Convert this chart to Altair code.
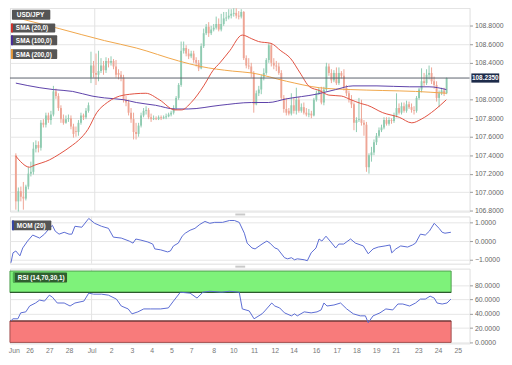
import altair as alt
import pandas as pd

# ---------------- data ----------------
opens = [107.40,106.90,107.01,106.95,106.93,107.06,107.20,107.22,107.47,107.51,
         107.48,107.75,107.73,107.83,107.78,107.84,108.09,108.04,107.91,107.79,
         107.75,107.79,107.80,107.71,107.66,107.65,107.75,107.83,107.81,107.88,
         108.24,108.37,108.29,108.27,108.31,108.37,108.32,108.42,108.40,108.42,
         108.36,108.29,108.27,108.24,108.00,107.97,107.86,107.79,107.65,107.63,
         107.72,107.83,107.88,107.89,107.81,107.79,107.80,107.79,107.81,107.80,
         107.81,107.82,107.84,107.86,107.91,108.02,108.16,108.53,108.56,108.50,
         108.47,108.50,108.43,108.40,108.34,108.58,108.72,108.79,108.72,108.76,
         108.78,108.82,108.76,108.82,108.88,108.89,108.91,108.93,108.94,108.91,
         108.90,108.95,108.45,108.37,108.36,108.29,107.95,108.07,108.11,108.24,
         108.29,108.43,108.59,108.40,108.37,108.36,108.29,108.02,107.90,107.88,
         107.85,107.94,107.88,108.00,107.88,107.92,107.86,107.84,107.85,107.83,
         108.00,108.07,108.11,107.97,108.11,108.36,108.29,108.21,108.29,108.18,
         108.29,108.26,108.13,108.07,108.00,107.95,107.75,107.78,107.79,107.75,
         107.73,107.27,107.40,107.43,107.54,107.61,107.67,107.70,107.78,107.74,
         107.78,107.77,107.83,107.91,107.86,107.93,107.88,107.95,107.92,107.89,
         107.88,108.02,108.11,108.20,108.18,108.27,108.29,108.20,108.16,108.02,
         108.07,108.10,108.07]
closes = [106.90,107.01,106.95,106.93,107.06,107.20,107.22,107.47,107.51,107.48,
          107.75,107.73,107.83,107.78,107.84,108.09,108.04,107.91,107.79,107.75,
          107.79,107.80,107.71,107.63,107.65,107.75,107.83,107.81,107.88,107.94,
          108.37,108.29,108.27,108.31,108.37,108.32,108.42,108.40,108.42,108.36,
          108.27,108.27,108.24,108.00,107.97,107.86,107.79,107.65,107.63,107.72,
          107.83,107.88,107.89,107.81,107.79,107.80,107.79,107.81,107.80,107.81,
          107.82,107.84,107.86,107.91,108.02,108.16,108.53,108.56,108.50,108.47,
          108.50,108.43,108.40,108.34,108.58,108.72,108.79,108.72,108.76,108.78,
          108.82,108.76,108.82,108.88,108.89,108.91,108.93,108.94,108.91,108.90,
          108.95,108.45,108.37,108.36,108.29,107.95,108.07,108.11,108.24,108.29,
          108.43,108.59,108.40,108.37,108.36,108.29,108.02,107.90,107.86,107.85,
          107.94,107.88,108.00,107.88,107.92,107.86,107.84,107.85,107.83,108.00,
          108.07,108.11,107.97,108.11,108.36,108.29,108.21,108.29,108.18,108.29,
          108.26,108.13,108.07,108.00,107.95,107.75,107.78,107.79,107.75,107.73,
          107.27,107.40,107.43,107.54,107.61,107.67,107.70,107.78,107.74,107.78,
          107.77,107.83,107.91,107.86,107.93,107.88,107.95,107.92,107.89,107.88,
          108.02,108.11,108.20,108.18,108.27,108.29,108.20,108.16,108.02,108.07,
          108.10,108.07,108.235]
highs = [107.42,107.05,107.06,107.11,107.08,107.27,107.33,107.54,107.56,107.55,
         107.78,107.79,107.86,107.86,107.88,108.15,108.12,108.07,107.94,107.84,
         107.83,107.84,107.83,107.74,107.71,107.78,107.86,107.85,107.91,107.97,
         108.52,108.42,108.50,108.53,108.45,108.42,108.46,108.45,108.47,108.44,
         108.43,108.33,108.31,108.27,108.04,108.00,107.91,107.86,107.75,107.75,
         107.86,107.91,107.93,107.91,107.85,107.83,107.82,107.83,107.83,107.83,
         107.85,107.86,107.88,107.94,108.04,108.18,108.63,108.63,108.59,108.55,
         108.53,108.53,108.46,108.43,108.61,108.77,108.82,108.84,108.80,108.82,
         108.90,108.88,108.93,108.95,108.95,108.98,108.98,108.99,108.99,108.96,
         108.98,108.96,108.48,108.45,108.40,108.31,108.10,108.15,108.27,108.34,
         108.45,108.61,108.61,108.45,108.42,108.40,108.32,108.05,108.02,107.91,
         108.07,108.02,108.13,108.03,107.96,107.97,107.91,107.90,107.88,108.02,
         108.10,108.13,108.14,108.14,108.40,108.39,108.33,108.32,108.35,108.35,
         108.31,108.33,108.16,108.10,108.05,107.97,107.81,108.02,108.00,107.78,
         107.76,107.42,107.49,107.57,107.64,107.70,107.73,107.81,107.81,107.81,
         107.80,107.86,108.07,107.96,107.97,107.97,107.99,107.98,107.96,107.93,
         108.04,108.13,108.34,108.29,108.33,108.37,108.35,108.25,108.20,108.10,
         108.13,108.13,108.24]
lows = [106.81,106.79,106.90,106.81,106.91,107.03,107.17,107.19,107.43,107.43,
        107.45,107.70,107.70,107.75,107.73,107.82,108.01,107.88,107.75,107.73,
        107.74,107.76,107.68,107.59,107.60,107.61,107.73,107.78,107.79,107.86,
        108.18,108.24,108.16,108.20,108.29,108.27,108.29,108.35,108.37,108.33,
        108.24,108.22,108.20,107.97,107.93,107.83,107.75,107.57,107.57,107.60,
        107.70,107.81,107.84,107.79,107.76,107.78,107.78,107.78,107.78,107.79,
        107.79,107.81,107.82,107.84,107.89,108.00,108.14,108.50,108.47,108.44,
        108.45,108.40,108.36,108.31,108.33,108.56,108.70,108.68,108.70,108.74,
        108.76,108.74,108.74,108.80,108.85,108.87,108.88,108.90,108.88,108.87,
        108.88,108.43,108.34,108.33,108.24,107.86,107.94,108.04,108.06,108.21,
        108.27,108.40,108.36,108.33,108.31,108.27,108.00,107.86,107.83,107.83,
        107.83,107.85,107.84,107.86,107.86,107.84,107.82,107.81,107.80,107.82,
        107.98,108.05,107.95,107.94,108.09,108.26,108.18,108.19,108.16,108.16,
        108.23,108.10,108.04,107.97,107.91,107.67,107.65,107.76,107.72,107.61,
        107.22,107.20,107.33,107.40,107.51,107.59,107.65,107.68,107.72,107.72,
        107.74,107.75,107.81,107.84,107.84,107.86,107.86,107.90,107.86,107.84,
        107.86,108.00,108.08,108.15,108.16,108.22,108.17,108.12,107.98,107.92,
        108.05,108.04,108.06]

sma20_t = [0,1.9,5.4,7.3,13.5,17.3,22.7,25,28.8,32.3,36.5,43.1,51.9,57.3,63.5,66.2,70,75,78.8,
           81.5,85.4,90.4,94.2,96.9,101.9,105.8,109.6,113.5,117.3,121.2,125,130,133.8,137.7,
           140.4,146.5,153.1,158.1,161.9,167.3,171.9]
sma20_v = [107.39,107.33,107.27,107.29,107.35,107.41,107.51,107.56,107.68,107.86,107.97,108.05,
           108.07,108.00,107.89,107.89,107.97,108.15,108.32,108.40,108.53,108.70,108.66,108.63,
           108.61,108.53,108.45,108.29,108.14,108.10,108.05,108.04,108.00,107.96,107.94,107.86,
           107.81,107.75,107.79,107.89,108.00]
sma100_t = [0,9.6,15,22.7,30.4,35.4,43.1,48.1,55.8,63.5,68.8,81.5,94.2,100.8,108.1,120,127.7,
            134.6,144.2,157.3,165,171.9]
sma100_v = [108.18,108.13,108.11,108.09,108.04,108.02,108.00,107.97,107.94,107.90,107.90,107.94,
            107.97,107.97,108.01,108.06,108.11,108.15,108.15,108.14,108.14,108.11]
sma200_t = [0,17.3,35.4,48.1,65,73.8,86.5,94.2,108.1,121.2,133.8,146.5,159.6,171.9]
sma200_v = [108.89,108.77,108.64,108.56,108.42,108.36,108.31,108.29,108.20,108.13,108.11,108.10,
            108.09,108.07]

mom_t = [0,0.8,1.9,3.5,4.6,6.5,8.5,11.2,13.1,15,16.2,17.3,18.8,20.8,22.7,23.8,25,27.7,30.4,
         32.7,35.4,38.1,40,43.1,46.2,47.7,48.8,50.8,53.5,55.4,56.2,58.5,61.2,62.3,63.5,65.4,
         66.9,68.1,70,71.9,73.8,75.8,77.7,79.6,82.7,85.4,87.3,89.2,91.2,92.3,94.2,95.4,98.1,
         100,101.2,103.1,104.2,106.9,108.1,109.6,110.8,111.9,114.6,115.8,117.3,119.2,120.4,
         121.5,123.1,125,126.9,128.1,130,132.7,134.6,137.7,139.6,141.5,143.5,146.2,148.1,
         148.8,150.4,152.3,155,156.9,158.1,160,161.9,163.5,165.4,167.3,168.5,169.6,171.9]
mom_v = [-1.16,-0.63,-0.53,-0.79,-0.37,0.0,0.32,0.16,0.37,0.68,0.84,0.53,0.37,0.47,0.37,0.37,
         0.79,0.74,1.21,0.95,0.79,0.68,0.21,0.16,0.0,-0.11,0.11,0.05,-0.05,-0.16,-0.42,-0.47,
         -0.58,-0.53,-0.26,-0.11,0.26,0.42,0.58,0.68,0.89,1.05,0.95,1.0,1.0,1.1,1.1,1.0,0.42,
         -0.11,-0.37,-0.42,-0.16,0.0,-0.11,-0.37,-0.42,-0.89,-0.95,-0.89,-1.0,-0.95,-1.0,-1.05,
         -0.63,-0.37,0.11,0.0,0.26,-0.05,-0.37,-0.16,-0.16,0.11,-0.11,-0.26,-0.68,-0.42,-0.32,
         -0.26,-0.21,-0.63,-0.42,-0.26,-0.32,-0.21,-0.11,0.37,0.32,0.53,0.95,0.68,0.47,0.42,0.47]

rsi_t = [0,0.8,2.7,3.8,5.8,7.3,9.6,11.2,13.1,15,16.2,18.1,20.8,23.1,25,28.5,30.4,32.3,35.4,
         38.1,41.2,43.1,45.8,47.3,49.6,51.9,54.6,58.5,61.5,63.5,66.2,70,72.7,75,77.7,82.3,85.4,
         89.2,90.4,93.1,95,98.1,99.2,101.9,103.1,105,106.9,109.6,110.8,111.9,114.6,117.3,119.6,
         121.2,122.3,123.5,126.2,128.8,131.2,133.8,136.5,138.5,139.6,141.5,144.2,146.5,149.2,
         151.2,153.1,155.8,158.1,160,161.9,163.8,165.4,166.5,168.5,170.4,171.9]
rsi_v = [30.3,33.1,33.1,41.4,42.8,51.0,55.2,59.3,57.9,66.2,63.4,55.2,55.2,51.0,55.2,57.9,69.0,
         67.6,67.6,66.2,60.7,51.0,46.9,40.0,42.8,46.9,46.9,46.9,48.3,57.9,70.3,69.0,62.1,70.3,
         71.7,70.3,71.7,70.3,46.9,44.1,33.1,40.0,44.1,55.2,51.0,48.3,41.4,37.2,40.0,37.2,42.8,
         41.4,42.8,45.5,55.2,51.0,52.4,55.2,46.9,40.0,37.2,37.2,27.6,37.2,41.4,46.9,45.5,53.8,
         53.8,51.0,55.2,60.7,60.7,64.8,62.1,55.2,53.8,55.2,60.7]

tick_pos = [1.15,7.3,15,22.7,31.5,39.2,47.3,55,62.7,70.4,79.2,86.9,95,103.1,110.4,119.2,
            127.3,135,142.7,150.4,159.2,166.9,174.6]
tick_lab = ["Jun","26","27","28","Jul","2","3","4","5","7","8","10","11","12","14","16",
            "17","18","19","21","23","24","25"]
month_start = 31.5

price_ticks = [106.8,107.0,107.2,107.4,107.6,107.8,108.0,108.4,108.6,108.8]
last_price = 108.235
mom_ticks = [-1.0, 0.0, 1.0]
rsi_ticks = [0, 20, 40, 60, 80]
rsi_bands = {"ob": (70, 100), "os": (0, 30)}

# ---------------- layout / style ----------------
W = 467
H_MAIN, H_MOM, H_RSI = 207, 48, 76
XDOM = [-0.385, 179.2]
LAST_I = len(closes) - 1
FONT = "Liberation Sans"
GREEN, RED = "#3a9f79", "#e8735f"
GREEN_W, RED_W = "#8fcbb1", "#eea595"

xs = alt.Scale(domain=XDOM, nice=False, zero=False)

candles = pd.DataFrame({"i": list(range(len(closes))), "o": opens, "h": highs,
                        "l": lows, "c": closes})
candles["dir"] = ["up" if c >= o else "down" for o, c in zip(opens, closes)]

def yaxis(values):
    return alt.Axis(orient="right", values=values, format=".4f", title=None,
                    labelFontSize=7, labelColor="#666", labelFont=FONT, tickSize=3,
                    tickColor="#999", domain=False, grid=True, gridColor="#e6e6e6",
                    labelPadding=2, labelOverlap=False, labelBound=False)

lab_expr = ("[" + ",".join(f"'{s}'" for s in tick_lab) + "][indexof(["
            + ",".join(str(p) for p in tick_pos) + "], datum.value)]")
XAX_NONE = alt.Axis(labels=False, ticks=False, domain=False, grid=False, title=None)
XAX_DATES = alt.Axis(values=tick_pos, labelExpr=lab_expr, ticks=False, domain=False, grid=False,
                     labelFontSize=7, labelColor="#777", labelFont=FONT, labelPadding=3,
                     labelOverlap=False, labelFlush=False, title=None)

ys_main = alt.Scale(domain=[106.79, 108.995], nice=False, zero=False)
ys_mom = alt.Scale(domain=[-1.21, 1.316], nice=False, zero=False)
ys_rsi = alt.Scale(domain=[-1.4, 103.4], nice=False, zero=False)
YAX_MAIN = yaxis(price_ticks)
YAX_MOM = yaxis(mom_ticks)
YAX_RSI = yaxis(rsi_ticks)

def X(field, ax):
    return alt.X(field, type="quantitative", scale=xs, axis=ax)

def Y(field, sc, ax):
    return alt.Y(field, type="quantitative", scale=sc, axis=ax)

base = alt.Chart(candles)
wicks = base.mark_rule(strokeWidth=1).encode(
    x=X("i", XAX_NONE), y=Y("l", ys_main, YAX_MAIN), y2="h:Q",
    color=alt.Color("dir:N", scale=alt.Scale(domain=["up", "down"], range=[GREEN_W, RED_W]),
                    legend=None))
bodies = base.mark_bar(width=1.9).encode(
    x=X("i", XAX_NONE), y=Y("o", ys_main, YAX_MAIN), y2="c:Q",
    color=alt.Color("dir:N", scale=alt.Scale(domain=["up", "down"], range=[GREEN, RED]),
                    legend=None))

def line_layer(t, v, color, scale, yax, xax, width=1.0):
    df = pd.DataFrame({"t": t, "v": v})
    return alt.Chart(df).mark_line(color=color, strokeWidth=width, interpolate="monotone").encode(
        x=X("t", xax), y=Y("v", scale, yax))

one = pd.DataFrame({"k": [0]})
month_df = pd.DataFrame({"m": [month_start]})

def vline(xax):
    return alt.Chart(month_df).mark_rule(color="#e2e2e2", strokeWidth=1).encode(x=X("m", xax))

def box(x1, y1, x2, y2, fill, text, stripe=None, tcolor="white"):
    layers = [alt.Chart(one).mark_rect(color=fill, cornerRadius=1).encode(
        x=alt.value(x1), x2=alt.value(x2), y=alt.value(y1), y2=alt.value(y2))]
    if stripe:
        layers.append(alt.Chart(one).mark_rect(color=stripe).encode(
            x=alt.value(x1), x2=alt.value(x1 + 2), y=alt.value(y1), y2=alt.value(y2)))
    layers.append(alt.Chart(one).mark_text(text=text, color=tcolor, fontSize=6.5, font=FONT,
                                           fontWeight="bold", align="left", baseline="middle").encode(
        x=alt.value(x1 + 5), y=alt.value((y1 + y2) / 2 + 0.5)))
    return layers

last_df = pd.DataFrame({"p": [last_price], "lab": [f"{last_price:.4f}"]})
last_rule = alt.Chart(last_df).mark_rule(color="#5a606b", strokeWidth=1).encode(
    y=Y("p", ys_main, YAX_MAIN))
last_box = alt.Chart(last_df).mark_point(
    shape="M-1,-0.33L1,-0.33L1,0.33L-1,0.33Z", size=800, filled=True, opacity=1,
    color="#1d2b4a").encode(x=alt.value(W + 16), y=Y("p", ys_main, YAX_MAIN))
last_txt = alt.Chart(last_df).mark_text(color="white", fontSize=6.5, font=FONT,
                                         fontWeight="bold", baseline="middle").encode(
    x=alt.value(W + 16), y=Y("p", ys_main, YAX_MAIN), text="lab:N")

main = alt.layer(
    vline(XAX_NONE), wicks, bodies,
    line_layer(sma200_t, sma200_v, "#f0a548", ys_main, YAX_MAIN, XAX_NONE),
    line_layer(sma100_t, sma100_v, "#5b3fa8", ys_main, YAX_MAIN, XAX_NONE),
    line_layer(sma20_t, sma20_v, "#e0503f", ys_main, YAX_MAIN, XAX_NONE),
    last_rule, last_box, last_txt,
    *box(2, 2, 41, 12, "#555555", "USD/JPY"),
    *box(1, 16, 46, 25, "#555555", "SMA (20,0)", "#d9302a"),
    *box(1, 28, 48, 38, "#555555", "SMA (100,0)", "#4b2c9a"),
    *box(1, 42, 48, 52, "#555555", "SMA (200,0)", "#e89a3a"),
).properties(width=W, height=H_MAIN)

# MOM panel
mom_df = pd.DataFrame({"t": mom_t, "v": mom_v})
mom_line = alt.Chart(mom_df).mark_line(color="#5a6bd3", strokeWidth=1).encode(
    x=X("t", XAX_NONE), y=Y("v", ys_mom, YAX_MOM))
grab1 = alt.Chart(one).mark_rect(color="#c9c9c9").encode(
    x=alt.value(229), x2=alt.value(239), y=alt.value(-3), y2=alt.value(-1))
mom = alt.layer(vline(XAX_NONE), mom_line, grab1,
                *box(2, 4, 42, 14, "#555555", "MOM (20)", "#3344aa")
                ).properties(width=W, height=H_MOM)

# RSI panel
band_df = pd.DataFrame({"k": list(rsi_bands.keys()),
                        "lo": [b[0] for b in rsi_bands.values()],
                        "hi": [b[1] for b in rsi_bands.values()],
                        "x0": [XDOM[0]] * 2, "x1": [LAST_I] * 2})
bands = alt.Chart(band_df).mark_rect(strokeWidth=1).encode(
    x=X("x0", XAX_DATES), x2="x1:Q",
    y=Y("lo", ys_rsi, YAX_RSI), y2="hi:Q",
    color=alt.Color("k:N", scale=alt.Scale(domain=["ob", "os"], range=["#7ef27a", "#f87b7b"]),
                    legend=None),
    stroke=alt.Stroke("k:N", scale=alt.Scale(domain=["ob", "os"], range=["#4f9d4f", "#a05050"]),
                      legend=None))
edge_df = pd.DataFrame({"y": [70, 30], "x0": [XDOM[0]] * 2, "x1": [LAST_I] * 2,
                        "k": ["ob", "os"]})
edges = alt.Chart(edge_df).mark_rule(strokeWidth=1.2).encode(
    x=X("x0", XAX_DATES), x2="x1:Q", y=Y("y", ys_rsi, YAX_RSI),
    color=alt.Color("k:N", scale=alt.Scale(domain=["ob", "os"], range=["#2d5a2d", "#5a2a2a"]),
                    legend=None))
rsi_df = pd.DataFrame({"t": rsi_t, "v": rsi_v})
rsi_line = alt.Chart(rsi_df).mark_line(color="#5a6bd3", strokeWidth=1).encode(
    x=X("t", XAX_DATES), y=Y("v", ys_rsi, YAX_RSI))
grab2 = alt.Chart(one).mark_rect(color="#c9c9c9").encode(
    x=alt.value(229), x2=alt.value(239), y=alt.value(-3), y2=alt.value(-1))
rsi = alt.layer(vline(XAX_DATES), bands, edges, rsi_line, grab2,
                *box(3, 4, 58, 14, "#2f5f2f", "RSI (14,70,30,1)", "#4caf50")
                ).resolve_scale(color="independent", stroke="independent"
                ).properties(width=W, height=H_RSI)

chart = alt.vconcat(main, mom, rsi, spacing=5, bounds="flush").properties(
    padding={"left": -1, "top": -4, "right": 0, "bottom": 0}
).configure_view(fill="#f5f5f5", stroke="#dcdcdc").configure(background="white")

chart.save("out.html", embed_options={"renderer": "svg", "actions": False})
